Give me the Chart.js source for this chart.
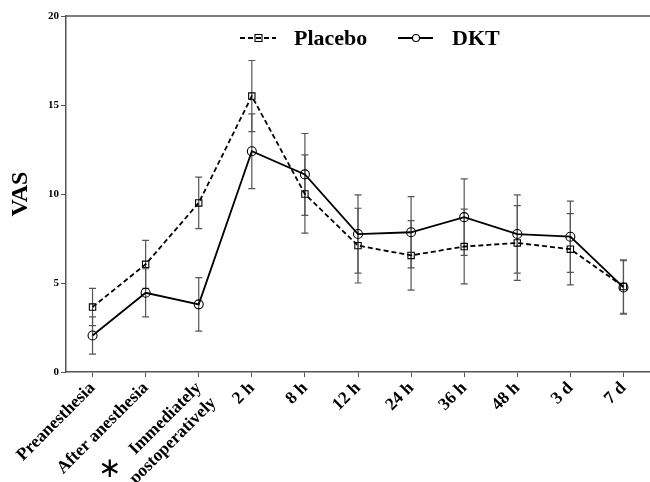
<!DOCTYPE html>
<html>
<head>
<meta charset="utf-8">
<script src="https://cdn.jsdelivr.net/npm/chart.js"></script>
<style>
  html, body { margin: 0; padding: 0; background: #fff; }
  #wrap { width: 650px; height: 482px; position: relative; }
</style>
</head>
<body>
<div id="wrap"><canvas id="canvas"></canvas></div>
<script>
// values (mean and SD, VAS)
const timepoints = ['Preanesthesia', 'After anesthesia', ['Immediately', 'postoperatively'], '2 h', '8 h', '12 h', '24 h', '36 h', '48 h', '3 d', '7 d'];
const placeboMean = [3.65, 6.05, 9.5, 15.5, 10.0, 7.1, 6.55, 7.05, 7.25, 6.9, 4.8];
const placeboSd   = [1.05, 1.35, 1.45, 2.0, 2.2, 2.1, 1.95, 2.1, 2.1, 2.0, 1.5];
const dktMean     = [2.05, 4.45, 3.8, 12.4, 11.1, 7.75, 7.85, 8.7, 7.75, 7.6, 4.75];
const dktSd       = [1.05, 1.35, 1.5, 2.1, 2.3, 2.2, 2.0, 2.15, 2.2, 2.0, 1.5];
const yTicks = [0, 5, 10, 15, 20];

const SERIF = '"Liberation Serif", "DejaVu Serif", serif';
const AXIS = '#555';

const errorBars = {
    id: 'errorBars',
    beforeDatasetsDraw(chart) {
        let ctx = chart.ctx, x = chart.scales.x, y = chart.scales.y;
        ctx.save();
        ctx.strokeStyle = '#555';
        ctx.lineWidth = 1.2;
        [[placeboMean, placeboSd], [dktMean, dktSd]].forEach(([m, s]) => {
            m.forEach((v, i) => {
                let px = x.getPixelForValue(i);
                let top = y.getPixelForValue(v + s[i]);
                let bot = y.getPixelForValue(v - s[i]);
                ctx.beginPath();
                ctx.moveTo(px, top); ctx.lineTo(px, bot);
                ctx.moveTo(px - 3.5, top); ctx.lineTo(px + 3.5, top);
                ctx.moveTo(px - 3.5, bot); ctx.lineTo(px + 3.5, bot);
                ctx.stroke();
            });
        });
        ctx.restore();
    }
};

const decorations = {
    id: 'decorations',
    afterDraw(chart) {
        let ctx = chart.ctx, a = chart.chartArea, x = chart.scales.x;
        ctx.save();
        // top frame line
        ctx.strokeStyle = AXIS;
        ctx.lineWidth = 1.5;
        ctx.beginPath();
        ctx.moveTo(a.left, a.top); ctx.lineTo(650, a.top);
        ctx.stroke();

        // legend
        let ly = 38;
        ctx.strokeStyle = '#000';
        ctx.lineWidth = 1.8;
        ctx.setLineDash([5, 3]);
        ctx.beginPath(); ctx.moveTo(240, ly); ctx.lineTo(276, ly); ctx.stroke();
        ctx.setLineDash([]);
        ctx.lineWidth = 1.1;
        ctx.strokeRect(255, ly - 3.5, 7, 7);
        ctx.lineWidth = 1.8;
        ctx.beginPath(); ctx.moveTo(398, ly); ctx.lineTo(433, ly); ctx.stroke();
        ctx.lineWidth = 1.1;
        ctx.fillStyle = '#fff';
        ctx.beginPath(); ctx.arc(416, ly, 3.5, 0, Math.PI * 2); ctx.fill(); ctx.stroke();
        ctx.fillStyle = '#000';
        ctx.font = 'bold 22px ' + SERIF;
        ctx.textBaseline = 'middle';
        ctx.textAlign = 'left';
        ctx.fillText('Placebo', 294, ly + 1);
        ctx.fillText('DKT', 452, ly + 1);

        // significance asterisk under the third time point
        let px = x.getPixelForValue(2);
        ctx.font = '28px "DejaVu Sans", sans-serif';
        ctx.textAlign = 'center';
        ctx.textBaseline = 'middle';
        ctx.fillText('\u2217', px - 89, a.bottom + 98);
        ctx.restore();
    }
};

new Chart(document.getElementById('canvas'), {
    type: 'line',
    data: {
        labels: timepoints,
        datasets: [
            {
                label: 'Placebo',
                data: placeboMean,
                borderColor: '#000',
                borderWidth: 1.8,
                borderDash: [5, 3],
                pointStyle: 'rect',
                pointRadius: 4.5,
                pointBorderWidth: 1.1,
                pointBorderColor: '#000',
                pointBackgroundColor: 'rgba(255,255,255,0)',
                tension: 0
            },
            {
                label: 'DKT',
                data: dktMean,
                borderColor: '#000',
                borderWidth: 1.8,
                pointStyle: 'circle',
                pointRadius: 4.5,
                pointBorderWidth: 1.1,
                pointBorderColor: '#000',
                pointBackgroundColor: 'rgba(255,255,255,0)',
                tension: 0
            }
        ]
    },
    options: {
        responsive: true,
        maintainAspectRatio: false,
        animation: false,
        layout: { autoPadding: false, padding: { top: 16, right: 0, left: 0, bottom: 0 } },
        plugins: {
            legend: { display: false },
            tooltip: { enabled: false }
        },
        scales: {
            x: {
                offset: true,
                grid: { display: true, drawOnChartArea: false, drawTicks: true, tickLength: 5, color: AXIS, offset: false },
                border: { display: true, color: AXIS, width: 1.5 },
                ticks: {
                    color: '#000',
                    font: { family: SERIF, size: 17.5, weight: 'bold' },
                    lineHeight: 1.05,
                    maxRotation: 45, minRotation: 45,
                    autoSkip: false,
                    padding: 1
                },
                afterFit(scale) {
                    scale.height = 110;
                    scale.paddingLeft = 0;
                    scale.paddingRight = 0;
                }
            },
            y: {
                min: 0, max: 20,
                afterBuildTicks(scale) { scale.ticks = yTicks.map(v => ({ value: v })); },
                grid: { display: true, drawOnChartArea: false, drawTicks: true, tickLength: 5, color: AXIS },
                border: { display: true, color: AXIS, width: 1.5 },
                ticks: {
                    color: '#000',
                    font: { family: SERIF, size: 11, weight: 'bold' },
                    padding: 2
                },
                title: {
                    display: true,
                    text: 'VAS',
                    color: '#000',
                    font: { family: SERIF, size: 24, weight: 'bold' },
                    padding: { top: 6, bottom: 14 }
                },
                afterFit(scale) {
                    scale.width = 66;
                    scale.paddingTop = 0;
                    scale.paddingBottom = 0;
                }
            }
        }
    },
    plugins: [errorBars, decorations]
});
</script>
</body>
</html>
